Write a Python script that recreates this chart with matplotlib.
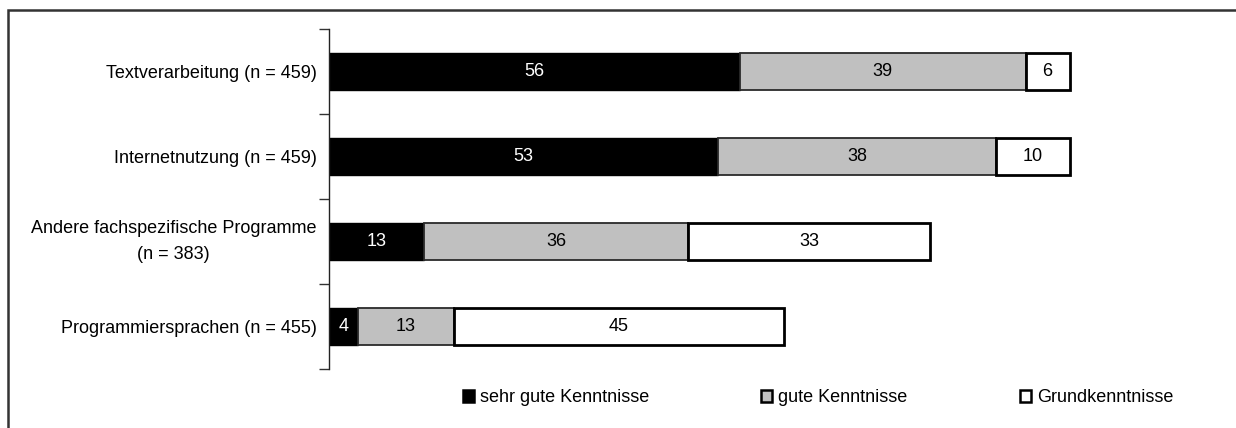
import matplotlib
matplotlib.use("Agg")
import matplotlib.pyplot as plt
from matplotlib.patches import Patch, Rectangle
import numpy as np

plt.rcParams['font.family'] = ['Liberation Sans Narrow', 'Liberation Sans', 'DejaVu Sans']

categories = [
    "Textverarbeitung (n = 459)",
    "Internetnutzung (n = 459)",
    "Andere fachspezifische Programme\n(n = 383)",
    "Programmiersprachen (n = 455)",
]
series_names = ["sehr gute Kenntnisse", "gute Kenntnisse", "Grundkenntnisse"]
sehr_gut = [56, 53, 13, 4]
gut = [39, 38, 36, 13]
grund = [6, 10, 33, 45]

colors = ["#000000", "#C0C0C0", "#FFFFFF"]
text_colors = ["white", "black", "black"]
edge_widths = [1.0, 1.3, 2.0]
edge_colors = ["#000000", "#2a2a2a", "#000000"]

fig = plt.figure(figsize=(12.36, 4.28), dpi=100)
ax = fig.add_axes([329/1236, 1 - 369/428, (1209 - 329)/1236, (369 - 29)/428])

y = np.arange(len(categories))
left = np.zeros(len(categories))
for vals, col, tc, lw, ec in zip([sehr_gut, gut, grund], colors, text_colors, edge_widths, edge_colors):
    vals = np.array(vals, dtype=float)
    bars = ax.barh(y, vals, left=left, height=0.44, color=col, edgecolor=ec, linewidth=lw)
    for b, v in zip(bars, vals):
        ax.text(b.get_x() + b.get_width() / 2, b.get_y() + b.get_height() / 2, f"{v:.0f}",
                ha="center", va="center", color=tc, fontsize=13)
    left += vals

ax.set_xlim(0, 120)
ax.set_ylim(3.5, -0.5)
ax.set_yticks(y)
ax.set_yticklabels(categories, fontsize=13, multialignment="center", linespacing=1.75)
for lbl in ax.get_yticklabels():
    if "\n" in lbl.get_text():
        lbl.set_va("center")
ax.tick_params(axis="y", which="major", length=0, pad=9)
ax.set_yticks(np.arange(-0.5, len(categories), 1.0), minor=True)
ax.tick_params(axis="y", which="minor", length=7, width=1, color="#333333", direction="out")
ax.set_xticks([])
for s in ["top", "right", "bottom"]:
    ax.spines[s].set_visible(False)
ax.spines["left"].set_color("#222222")
ax.spines["left"].set_linewidth(1.0)

handles = [Patch(facecolor=c, edgecolor="black", linewidth=1.8) for c in colors]
fig.legend(handles, series_names, loc="center left", bbox_to_anchor=(463/1236, 1 - 398/428),
           ncol=3, frameon=False, fontsize=13, handlelength=0.6, handleheight=0.6,
           handletextpad=0.35, columnspacing=6.2, borderaxespad=0, borderpad=0)

# outer frame (partially cropped in reference)
fig.patches.append(Rectangle((8/1236, -0.05), 1.2, 1 - 10/428 + 0.05, transform=fig.transFigure,
                             fill=False, edgecolor="#333333", linewidth=1.8, clip_on=False))

fig.savefig("out.png", dpi=100)
